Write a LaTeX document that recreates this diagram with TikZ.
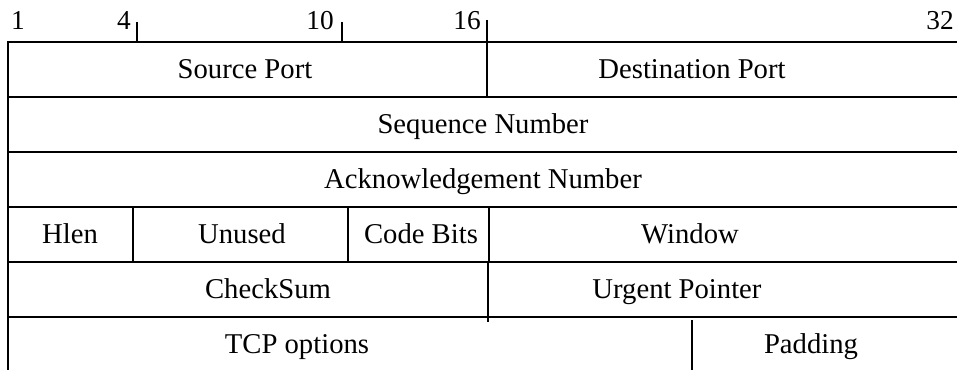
\documentclass[tikz,border=0pt]{standalone}
\usepackage{fontspec}
\setmainfont{Liberation Serif}
\usetikzlibrary{positioning}
\tikzset{
  rule/.style={line width=1.5pt,draw=black},
  field/.style={font=\fontsize{21.5}{26}\selectfont,anchor=base,inner sep=0pt},
  bitno/.style={font=\fontsize{20.5}{25}\selectfont,anchor=base,inner sep=0pt},
}
\begin{document}
\begin{tikzpicture}[x=0.75pt,y=0.75pt]
  \useasboundingbox (0,0) rectangle (957,370);
  % frame and row separators
  \draw[rule] (8,0) -- (8,328) -- (957,328);
  \foreach \y in {273,218,163,108,53} \draw[rule] (8,\y) -- (957,\y);
  % bit positions
  \foreach \n/\x in {1/18,4/124,10/320,16/467,32/940}
    \node[bitno] (bit\n) at (\x,340) {\n};
  \foreach \x in {137,342} \draw[rule] (\x,348) -- (\x,328);
  \draw[rule] (487,350) -- (487,273);
  % field boundaries inside rows
  \foreach \x in {133,348,489} \draw[rule] (\x,163) -- (\x,108);
  \draw[rule] (488,108) -- (488,48);
  \draw[rule] (692,50) -- (692,0);
  % field names
  \node[field] (srcport) at (245,291) {Source Port};
  \node[field] (dstport) at (692,291) {Destination Port};
  \node[field] (seqnum) at (483,236) {Sequence Number};
  \node[field] (acknum) at (483,181) {Acknowledgement Number};
  \node[field] (hlen) at (70,126) {Hlen};
  \node[field] (unused) at (242,126) {Unused};
  \node[field] (codebits) at (421,126) {Code Bits};
  \node[field] (window) at (690,126) {Window};
  \node[field] (checksum) at (268,71) {CheckSum};
  \node[field] (urgent) at (677,71) {Urgent Pointer};
  \node[field] (options) at (297,16) {TCP options};
  \node[field] (padding) at (811,16) {Padding};
\end{tikzpicture}
\end{document}
